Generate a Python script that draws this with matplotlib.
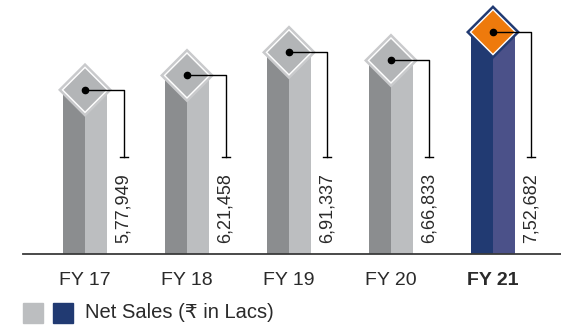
import matplotlib.pyplot as plt
from matplotlib.patches import Polygon, Rectangle

years = ["FY 17", "FY 18", "FY 19", "FY 20", "FY 21"]
net_sales = [577949, 621458, 691337, 666833, 752682]
value_labels = ["5,77,949", "6,21,458", "6,91,337", "6,66,833", "7,52,682"]
highlight = "FY 21"

grey = dict(dark="#8b8d8f", light="#bcbec0", rim="#c9cacc", fill="#b3b5b7")
navy = dict(dark="#213a72", light="#4b5189", rim="#213a72", fill="#ee7a0c")

plt.rcParams["font.family"] = ["Liberation Sans", "DejaVu Sans"]

W, H = 561, 327
fig = plt.figure(figsize=(W / 100, H / 100), dpi=100)
ax = fig.add_axes([23 / W, 73 / H, 538 / W, 254 / H])
ax.set_xlim(-0.608, 4.667)
ax.set_ylim(0, 768000)


def shift(x, y, dx, dy):
    # move a data point by a number of pixels, return data coords
    px, py = ax.transData.transform((x, y))
    return ax.transData.inverted().transform((px + dx, py + dy))


def to_data_y(pix_from_top):
    return ax.transData.inverted().transform((0, H - pix_from_top))[1]


half = 27      # diamond half-diagonal, px
face = 22      # pillar half-width, px
lead_y = to_data_y(157)
text_y = to_data_y(243)

for i, (yr, v, lab) in enumerate(zip(years, net_sales, value_labels)):
    c = navy if yr == highlight else grey
    cx, cy = shift(i, v, 0, -half)
    xl = shift(i, 0, -face, 0)[0]
    xr = shift(i, 0, face, 0)[0]

    # two-tone pillar
    ax.add_patch(Rectangle((xl, 0), i - xl, cy, color=c["dark"], lw=0, zorder=2))
    ax.add_patch(Rectangle((i, 0), xr - i, cy, color=c["light"], lw=0, zorder=2))

    # diamond cap: rim, white line, fill
    for r, col in [(half, c["rim"]), (half - 3.5, "white"), (half - 5.5, c["fill"])]:
        pts = [shift(i, v, dx, dy - half) for dx, dy in [(0, r), (r, 0), (0, -r), (-r, 0)]]
        ax.add_patch(Polygon(pts, closed=True, color=col, lw=0, zorder=3))

    # leader line to the value label
    lx = shift(i, v, 38.5, 0)[0]
    ax.plot([cx, lx, lx], [cy, cy, lead_y], color="black", lw=1.0, zorder=4)
    t0, t1 = shift(lx, lead_y, -4, 0)[0], shift(lx, lead_y, 4, 0)[0]
    ax.plot([t0, t1], [lead_y, lead_y], color="black", lw=1.0, zorder=4)
    ax.plot(cx, cy, "o", color="black", ms=4.5, zorder=5)

    ax.text(lx, text_y, lab, rotation=90, ha="center", va="bottom",
            fontsize=13, color="#2a2a2a")

ax.set_xticks(range(len(years)), years)
for tl in ax.get_xticklabels():
    tl.set_fontsize(14)
    tl.set_color("#2a2a2a")
    if tl.get_text() == highlight:
        tl.set_fontweight("bold")
ax.tick_params(axis="x", length=0, pad=13)
ax.set_yticks([])
for s in ["top", "left", "right"]:
    ax.spines[s].set_visible(False)
ax.spines["bottom"].set_color("#3a3a3a")
ax.spines["bottom"].set_linewidth(1.3)
ax.spines["bottom"].set_zorder(6)

# legend swatches
fig.add_artist(Rectangle((23 / W, 4 / H), 20 / W, 20 / H, color=grey["light"],
                         transform=fig.transFigure))
fig.add_artist(Rectangle((53 / W, 4 / H), 20 / W, 20 / H, color=navy["dark"],
                         transform=fig.transFigure))
fig.text(85 / W, 14 / H, "Net Sales (₹ in Lacs)", fontsize=14.5, va="center",
         ha="left", color="#2a2a2a")

fig.savefig("out.png", dpi=100)
